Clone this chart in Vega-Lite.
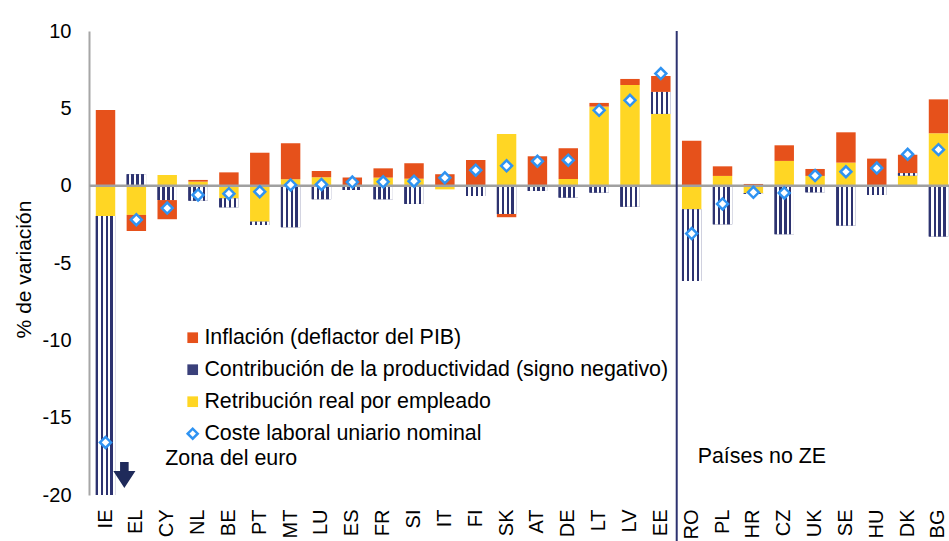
{
  "$schema": "https://vega.github.io/schema/vega-lite/v6.json",
  "width": 860,
  "height": 464,
  "autosize": {"type": "none"},
  "padding": {"left": 89, "top": 31, "right": 0, "bottom": 46},
  "background": "white",
  "config": {
    "view": {"stroke": null},
    "font": "Liberation Sans",
    "axis": {"labelFont": "Liberation Sans", "titleFont": "Liberation Sans", "labelColor": "#000000", "titleColor": "#000000", "grid": false, "ticks": false, "tickSize": 0},
    "legend": {"labelFont": "Liberation Sans"}
  },
  "data": {
    "values": [
      {"pais": "IE", "ret": -1.96, "prod": -19.4, "inf": 4.89, "clu": -16.6},
      {"pais": "EL", "ret": -1.89, "prod": 0.74, "inf": -1.04, "clu": -2.2},
      {"pais": "CY", "ret": 0.69, "prod": -0.93, "inf": -1.24, "clu": -1.45},
      {"pais": "NL", "ret": 0.26, "prod": -0.97, "inf": 0.11, "clu": -0.6},
      {"pais": "BE", "ret": -0.82, "prod": -0.58, "inf": 0.86, "clu": -0.52},
      {"pais": "PT", "ret": -2.33, "prod": -0.21, "inf": 2.13, "clu": -0.39},
      {"pais": "MT", "ret": 0.41, "prod": -2.69, "inf": 2.33, "clu": 0.05},
      {"pais": "LU", "ret": 0.54, "prod": -0.88, "inf": 0.41, "clu": 0.08},
      {"pais": "ES", "ret": 0.0, "prod": -0.28, "inf": 0.52, "clu": 0.23},
      {"pais": "FR", "ret": 0.52, "prod": -0.88, "inf": 0.6, "clu": 0.25},
      {"pais": "SI", "ret": 0.45, "prod": -1.18, "inf": 1.0, "clu": 0.29},
      {"pais": "IT", "ret": -0.24, "prod": 0.0, "inf": 0.74, "clu": 0.51},
      {"pais": "FI", "ret": 0.03, "prod": -0.67, "inf": 1.63, "clu": 1.0},
      {"pais": "SK", "ret": 3.34, "prod": -1.83, "inf": -0.21, "clu": 1.28},
      {"pais": "AT", "ret": 0.0, "prod": -0.34, "inf": 1.9, "clu": 1.58},
      {"pais": "DE", "ret": 0.43, "prod": -0.77, "inf": 1.99, "clu": 1.65},
      {"pais": "LT", "ret": 5.11, "prod": -0.45, "inf": 0.24, "clu": 4.87},
      {"pais": "LV", "ret": 6.51, "prod": -1.36, "inf": 0.39, "clu": 5.52},
      {"pais": "EE", "ret": 4.64, "prod": 1.42, "inf": 1.03, "clu": 7.25},
      {"pais": "RO", "ret": -1.53, "prod": -4.63, "inf": 2.91, "clu": -3.1},
      {"pais": "PL", "ret": 0.63, "prod": -2.5, "inf": 0.62, "clu": -1.18},
      {"pais": "HR", "ret": -0.49, "prod": -0.05, "inf": 0.11, "clu": -0.43},
      {"pais": "CZ", "ret": 1.6, "prod": -3.14, "inf": 1.01, "clu": -0.47},
      {"pais": "UK", "ret": 0.63, "prod": -0.43, "inf": 0.45, "clu": 0.65},
      {"pais": "SE", "ret": 1.49, "prod": -2.58, "inf": 1.96, "clu": 0.9},
      {"pais": "HU", "ret": 0.0, "prod": -0.6, "inf": 1.75, "clu": 1.14},
      {"pais": "DK", "ret": 0.65, "prod": 0.16, "inf": 1.19, "clu": 2.03},
      {"pais": "BG", "ret": 3.39, "prod": -3.29, "inf": 2.19, "clu": 2.33}
    ]
  },
  "layer": [
    {
      "transform": [
        {"fold": ["ret", "prod", "inf"], "as": ["serie", "valor"]},
        {"window": [{"op": "row_number", "as": "orden"}], "groupby": ["pais"]},
        {"stack": "valor", "groupby": ["pais"], "sort": [{"field": "orden", "order": "ascending"}], "offset": "zero", "as": ["v0", "v1"]}
      ],
      "layer": [
        {
          "mark": {"type": "bar", "clip": true},
          "encoding": {
            "x": {
              "field": "pais", "type": "nominal", "sort": null,
              "scale": {"paddingInner": 0.37, "paddingOuter": 0.22, "range": [0, 866]},
              "axis": {"title": null, "labelAngle": -90, "labelFontSize": 20, "labelPadding": 14, "domain": false, "labelOverlap": false}
            },
            "y": {
              "field": "v0", "type": "quantitative",
              "scale": {"domain": [-20, 10], "nice": false, "zero": false},
              "axis": {"values": [-20, -15, -10, -5, 0, 5, 10], "labelExpr": "toString(datum.value)", "title": "% de variación", "titleFontSize": 21, "titleFontWeight": "normal", "titleY": 238, "labelFontSize": 20, "labelPadding": 18, "domainColor": "#A6A6A6", "domainWidth": 2, "titlePadding": 8, "labelFlush": false, "labelOverlap": false}
            },
            "y2": {"field": "v1"},
            "color": {
              "field": "serie", "type": "nominal",
              "scale": {
                "domain": ["inf", "prod", "ret", "clu"],
                "range": ["#E6511B", "#3A407A", "#FFD624", "#ffffff"]
              },
              "legend": {
                "orient": "none", "legendX": 93, "legendY": 296, "title": null,
                "labelFontSize": 21.4, "labelColor": "#000000", "symbolSize": 114, "symbolType": "square",
                "labelOffset": 1, "rowPadding": 9, "padding": 0, "labelLimit": 700, "symbolStrokeWidth": 0,
                "labelExpr": "datum.label === 'inf' ? 'Inflación (deflactor del PIB)' : datum.label === 'prod' ? 'Contribución de la productividad (signo negativo)' : datum.label === 'ret' ? 'Retribución real por empleado' : 'Coste laboral uniario nominal'",
                "encode": {
                  "symbols": {
                    "update": {
                      "shape": {"signal": "datum.value === 'clu' ? 'diamond' : 'square'"},
                      "stroke": {"signal": "datum.value === 'clu' ? '#2F93F2' : 'transparent'"},
                      "strokeWidth": {"signal": "datum.value === 'clu' ? 2.5 : 0"},
                      "size": {"signal": "datum.value === 'clu' ? 100 : 114"}
                    }
                  }
                }
              }
            }
          }
        },
        {
          "transform": [{"filter": "datum.serie === 'prod'"}],
          "mark": {
            "type": "bar", "clip": true,
            "color": {"gradient": "linear", "x1": 0, "y1": 0, "x2": 1, "y2": 0, "stops": [
              {"offset": 0, "color": "#2D3370"}, {"offset": 0.12, "color": "#2D3370"},
              {"offset": 0.12, "color": "#ffffff"}, {"offset": 0.25, "color": "#ffffff"},
              {"offset": 0.25, "color": "#2D3370"}, {"offset": 0.37, "color": "#2D3370"},
              {"offset": 0.37, "color": "#ffffff"}, {"offset": 0.5, "color": "#ffffff"},
              {"offset": 0.5, "color": "#2D3370"}, {"offset": 0.62, "color": "#2D3370"},
              {"offset": 0.62, "color": "#ffffff"}, {"offset": 0.75, "color": "#ffffff"},
              {"offset": 0.75, "color": "#2D3370"}, {"offset": 0.87, "color": "#2D3370"},
              {"offset": 0.87, "color": "#ffffff"}, {"offset": 1, "color": "#ffffff"}
            ]}
          },
          "encoding": {
            "x": {"field": "pais", "type": "nominal", "sort": null},
            "y": {"field": "v0", "type": "quantitative"},
            "y2": {"field": "v1"}
          }
        }
      ]
    },
    {
      "data": {"values": [{}]},
      "mark": {"type": "rule", "color": "#A0A0A0", "strokeWidth": 2.5},
      "encoding": {"y": {"datum": 0}}
    },
    {
      "mark": {"type": "point", "shape": "diamond", "filled": true, "fill": "#ffffff", "stroke": "#2F93F2", "strokeWidth": 2.5, "size": 120, "opacity": 1},
      "encoding": {
        "x": {"field": "pais", "type": "nominal", "sort": null},
        "y": {"field": "clu", "type": "quantitative"}
      }
    },
    {
      "data": {"values": [{}]},
      "mark": {"type": "rule", "color": "#2D3370", "strokeWidth": 2},
      "encoding": {
        "x": {"datum": "RO", "bandPosition": -0.27},
        "y": {"datum": 10},
        "y2": {"datum": -23.5}
      }
    },
    {
      "data": {"values": [{}]},
      "mark": {"type": "point", "shape": "M-0.33,-1L0.33,-1L0.33,-0.3L0.85,-0.3L0,1L-0.85,-0.3L-0.33,-0.3Z", "filled": true, "color": "#1F2A5A", "size": 676, "opacity": 1, "xOffset": -12},
      "encoding": {"x": {"datum": "EL"}, "y": {"datum": -18.7}}
    },
    {
      "data": {"values": [{"t": "Zona del euro"}]},
      "mark": {"type": "text", "align": "left", "baseline": "alphabetic", "fontSize": 21.4, "color": "#000000", "dx": -2},
      "encoding": {"x": {"datum": "CY"}, "y": {"datum": -18.05}, "text": {"field": "t"}}
    },
    {
      "data": {"values": [{"t": "Países no ZE"}]},
      "mark": {"type": "text", "align": "left", "baseline": "alphabetic", "fontSize": 21.4, "color": "#000000", "dx": 6},
      "encoding": {"x": {"datum": "RO"}, "y": {"datum": -17.9}, "text": {"field": "t"}}
    }
  ]
}
